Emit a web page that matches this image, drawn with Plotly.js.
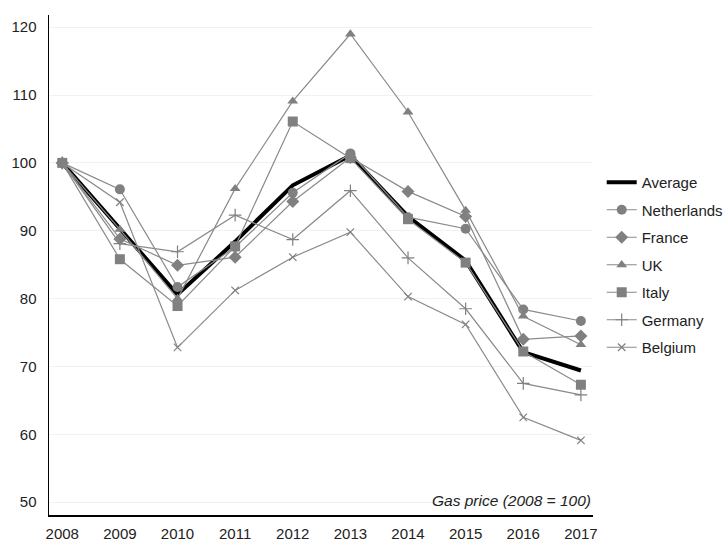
<!DOCTYPE html>
<html><head><meta charset="utf-8">
<script src="https://cdn.plot.ly/plotly-3.0.1.min.js"></script>
<style>body{margin:0;background:#fff}#c{width:727px;height:540px}</style>
</head><body><div id="c"></div>
<script>
var years = [2008,2009,2010,2011,2012,2013,2014,2015,2016,2017];
var average     = [100, 90.4, 80.6, 88.4, 96.7, 101.1, 92.1, 85.6, 72.1, 69.4];
var netherlands = [100, 96.1, 81.7, 87.6, 95.6, 101.4, 92.0, 90.3, 78.4, 76.7];
var france      = [100, 88.8, 84.9, 86.1, 94.3, 100.8, 95.8, 92.1, 74.0, 74.5];
var uk          = [100, 90.2, 80.0, 96.2, 109.1, 119.0, 107.5, 93.0, 77.4, 73.2];
var italy       = [100, 85.8, 78.9, 87.7, 106.1, 100.7, 91.7, 85.3, 72.2, 67.3];
var germany     = [100, 88.1, 86.9, 92.3, 88.7, 95.9, 86.0, 78.5, 67.5, 65.8];
var belgium     = [100, 94.2, 72.8, 81.2, 86.1, 89.8, 80.3, 76.2, 62.5, 59.1];
var names = ['Average','Netherlands','France','UK','Italy','Germany','Belgium'];
var series = [average, netherlands, france, uk, italy, germany, belgium];
var symbols = [null,'circle','diamond','triangle-up','square','cross-thin','x-thin'];
var sizes = [0,10,10,9.5,10,9,7.5];
var gray = '#808080';
var traces = series.map(function(s,i){
  var t = {x: years, y: s, name: names[i], type:'scatter', legendgroup:'g'+i};
  if (i===0) {
    t.mode='lines'; t.line={color:'#000', width:4};
  } else {
    t.mode='lines+markers';
    t.line={color:'#8a8a8a', width:1.2};
    var thin = symbols[i].indexOf('thin')>=0;
    t.marker={symbol:symbols[i], size:sizes[i], color:gray,
      line:{color:gray, width: thin?1.2:0}};
  }
  return t;
});
var layout = {
  width:727, height:540,
  margin:{l:49, r:134, t:15, b:25, autoexpand:false},
  paper_bgcolor:'#fff', plot_bgcolor:'#fff',
  font:{family:'Liberation Sans, Arial, sans-serif', size:15, color:'#222'},
  showlegend:true,
  legend:{x:1.016, xanchor:'left', y:0.5, yanchor:'middle', tracegroupgap:5,
    font:{size:15, color:'#222'}, bgcolor:'rgba(0,0,0,0)'},
  xaxis:{range:[2007.77, 2017.21], tickvals:years, ticktext:years.map(String),
    showgrid:false, zeroline:false, showline:true, linecolor:'#000', linewidth:1.5,
    ticks:'outside', ticklen:4, tickcolor:'rgba(0,0,0,0)'},
  yaxis:{range:[48.1, 121.8], tickvals:[50,60,70,80,90,100,110,120],
    showgrid:true, gridcolor:'#eef2f2', gridwidth:1, zeroline:false,
    showline:true, linecolor:'#000', linewidth:1.5,
    ticks:'outside', ticklen:8, tickcolor:'rgba(0,0,0,0)'},
  annotations:[{text:'<i>Gas price (2008 = 100)</i>', xref:'paper', yref:'paper',
    x:1.0, y:0.0, xanchor:'right', yanchor:'bottom', showarrow:false,
    xshift:0, yshift:4, font:{size:15.5, color:'#222'}}]
};
Plotly.newPlot('c', traces, layout, {displayModeBar:false, staticPlot:true});
</script></body></html>
